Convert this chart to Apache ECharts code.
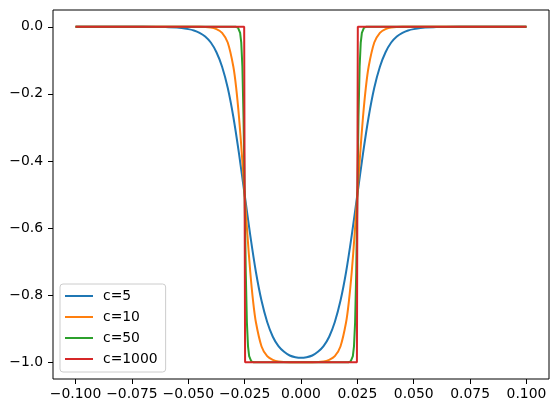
<!DOCTYPE html>
<html>
<head>
<meta charset="utf-8">
<script src="https://cdn.jsdelivr.net/npm/echarts@6/dist/echarts.min.js"></script>
<style>
html, body { margin: 0; padding: 0; background: #fff; }
#chart { width: 559px; height: 413px; }
</style>
</head>
<body>
<div id="chart"></div>
<script>
// values, [x, y]
var c5 = [
    [-0.1, 0], [-0.08, 0], [-0.07, 0], [-0.06, -0.001], [-0.055, -0.002],
    [-0.05, -0.007], [-0.0475, -0.011], [-0.045, -0.018], [-0.0425, -0.029],
    [-0.04, -0.047], [-0.0375, -0.076], [-0.035, -0.119], [-0.0325, -0.182],
    [-0.03, -0.269], [-0.0275, -0.378], [-0.025, -0.5], [-0.0225, -0.622],
    [-0.02, -0.731], [-0.0175, -0.817], [-0.015, -0.880], [-0.0125, -0.924],
    [-0.01, -0.952], [-0.0075, -0.969], [-0.005, -0.980], [-0.0025, -0.985],
    [0, -0.987],
    [0.0025, -0.985], [0.005, -0.980], [0.0075, -0.969], [0.01, -0.952],
    [0.0125, -0.924], [0.015, -0.880], [0.0175, -0.817], [0.02, -0.731],
    [0.0225, -0.622], [0.025, -0.5], [0.0275, -0.378], [0.03, -0.269],
    [0.0325, -0.182], [0.035, -0.119], [0.0375, -0.076], [0.04, -0.047],
    [0.0425, -0.029], [0.045, -0.018], [0.0475, -0.011], [0.05, -0.007],
    [0.055, -0.002], [0.06, -0.001], [0.07, 0], [0.08, 0], [0.1, 0]
];
var c10 = [
    [-0.1, 0], [-0.045, 0], [-0.04, -0.002], [-0.0375, -0.007], [-0.035, -0.018],
    [-0.0325, -0.047], [-0.03, -0.119], [-0.02875, -0.182], [-0.0275, -0.269],
    [-0.02625, -0.378], [-0.025, -0.5], [-0.02375, -0.622], [-0.0225, -0.731],
    [-0.02125, -0.818], [-0.02, -0.881], [-0.0175, -0.953], [-0.015, -0.982],
    [-0.0125, -0.993], [-0.01, -0.998], [-0.005, -1], [0, -1],
    [0.005, -1], [0.01, -0.998], [0.0125, -0.993], [0.015, -0.982],
    [0.0175, -0.953], [0.02, -0.881], [0.02125, -0.818], [0.0225, -0.731],
    [0.02375, -0.622], [0.025, -0.5], [0.02625, -0.378], [0.0275, -0.269],
    [0.02875, -0.182], [0.03, -0.119], [0.0325, -0.047], [0.035, -0.018],
    [0.0375, -0.007], [0.04, -0.002], [0.045, 0], [0.1, 0]
];
var c50 = [
    [-0.1, 0], [-0.029, 0], [-0.028, -0.002], [-0.027, -0.018], [-0.0265, -0.047],
    [-0.026, -0.119], [-0.0255, -0.269], [-0.025, -0.5], [-0.0245, -0.731],
    [-0.024, -0.881], [-0.0235, -0.953], [-0.023, -0.982], [-0.022, -0.998],
    [-0.021, -1], [0.021, -1], [0.022, -0.998], [0.023, -0.982], [0.0235, -0.953],
    [0.024, -0.881], [0.0245, -0.731], [0.025, -0.5], [0.0255, -0.269],
    [0.026, -0.119], [0.0265, -0.047], [0.027, -0.018], [0.028, -0.002],
    [0.029, 0], [0.1, 0]
];
var c1000 = [
    [-0.1, 0], [-0.0252, 0], [-0.025, -0.5], [-0.0248, -1],
    [0.0248, -1], [0.025, -0.5], [0.0252, 0], [0.1, 0]
];
var seriesNames = ['c=5', 'c=10', 'c=50', 'c=1000'];
var xTicks = [-0.1, -0.075, -0.05, -0.025, 0, 0.025, 0.05, 0.075, 0.1];
var yTicks = [-1.0, -0.8, -0.6, -0.4, -0.2, 0.0];

var colors = ['#1f77b4', '#ff7f0e', '#2ca02c', '#d62728'];
var allData = [c5, c10, c50, c1000];

function fmt(v, d) {
    var s = Number(v).toFixed(d);
    if (Math.abs(v) < 1e-9) s = (0).toFixed(d);
    return s.replace('-', '\u2212');
}

var myChart = echarts.init(document.getElementById('chart'));

var option = {
    animation: false,
    color: colors,
    textStyle: { fontFamily: 'DejaVu Sans' },
    grid: {
        left: 53, right: 10, top: 10, bottom: 34,
        show: true,
        borderColor: '#000',
        borderWidth: 1,
        backgroundColor: 'transparent'
    },
    legend: {
        orient: 'vertical',
        left: 60,
        top: 284,
        data: seriesNames,
        icon: 'rect',
        itemWidth: 28,
        itemHeight: 2,
        itemGap: 5,
        padding: [4, 8, 5, 5],
        backgroundColor: 'rgba(255,255,255,0.8)',
        borderColor: '#cccccc',
        borderWidth: 1,
        borderRadius: 3,
        textStyle: {
            color: '#000',
            fontSize: 13.9,
            lineHeight: 16,
            fontFamily: 'DejaVu Sans',
            padding: [0, 0, 0, 5]
        }
    },
    xAxis: {
        type: 'value',
        min: -0.11,
        max: 0.11,
        axisLine: { show: false, onZero: false },
        splitLine: { show: false },
        axisTick: {
            show: true,
            length: 5,
            customValues: xTicks,
            lineStyle: { color: '#000', width: 1 }
        },
        axisLabel: {
            customValues: xTicks,
            margin: 8,
            color: '#000',
            fontSize: 13.9,
            fontFamily: 'DejaVu Sans',
            formatter: function (v) { return fmt(v, 3); }
        }
    },
    yAxis: {
        type: 'value',
        min: -1.05,
        max: 0.05,
        axisLine: { show: false, onZero: false },
        splitLine: { show: false },
        axisTick: {
            show: true,
            length: 5,
            customValues: yTicks,
            lineStyle: { color: '#000', width: 1 }
        },
        axisLabel: {
            customValues: yTicks,
            margin: 10,
            color: '#000',
            fontSize: 13.9,
            fontFamily: 'DejaVu Sans',
            formatter: function (v) { return fmt(v, 1); }
        }
    },
    series: seriesNames.map(function (name, i) {
        return {
            name: name,
            type: 'line',
            data: allData[i],
            symbol: 'none',
            smooth: i < 2 ? 0.3 : false,
            lineStyle: { width: 2, color: colors[i] },
            itemStyle: { color: colors[i] }
        };
    })
};

myChart.setOption(option);
</script>
</body>
</html>
